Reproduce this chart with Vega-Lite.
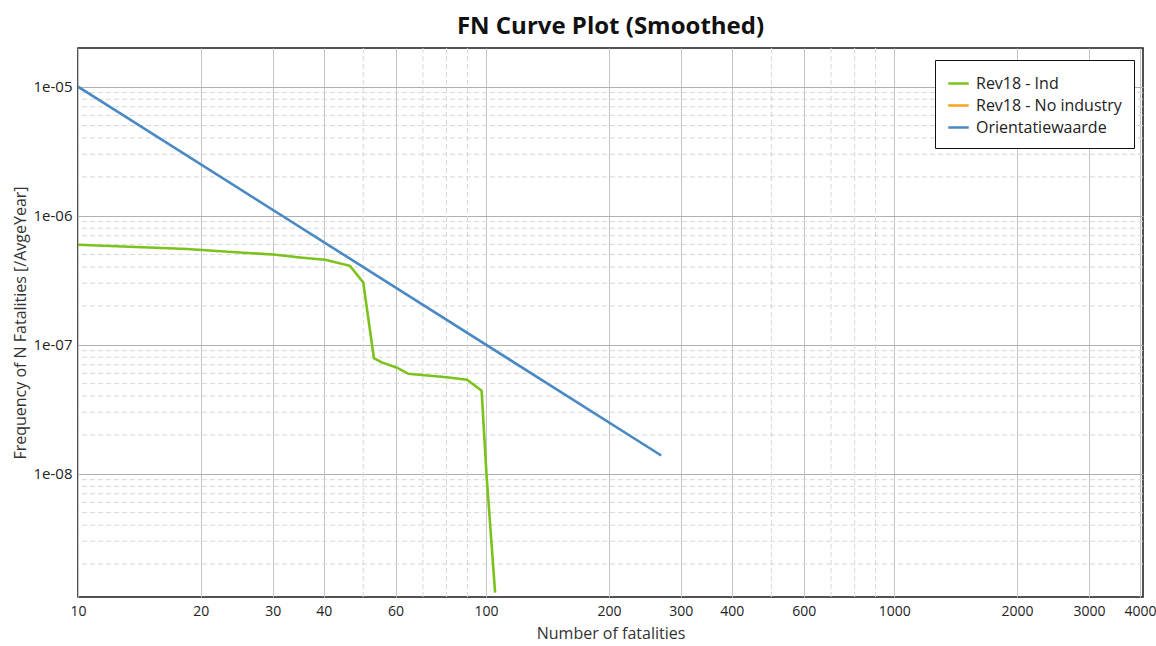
{
  "$schema": "https://vega.github.io/schema/vega-lite/v6.json",
  "autosize": {"type": "none"},
  "width": 1065,
  "height": 549,
  "padding": {"left": 78, "top": 48, "right": 13, "bottom": 49},
  "background": "white",
  "title": {"text": "FN Curve Plot (Smoothed)", "font": "Open Sans", "fontSize": 24, "fontWeight": "bold", "color": "#111", "anchor": "middle", "offset": 9},
  "config": {
    "view": {"stroke": "#1a1a1a", "strokeWidth": 1.5},
    "axis": {"labelFont": "Open Sans", "titleFont": "Open Sans", "labelColor": "#222", "titleColor": "#333", "labelFontSize": 14, "titleFontSize": 16, "titleFontWeight": "normal", "ticks": false, "domain": false}
  },
  "layer": [
    {
      "data": {"values": [{"n": 50}, {"n": 70}, {"n": 80}, {"n": 90}, {"n": 500}, {"n": 700}, {"n": 800}, {"n": 900}]},
      "mark": {"type": "rule", "color": "#d8d8d8", "strokeWidth": 1, "strokeDash": [5, 3]},
      "encoding": {"x": {"field": "n", "type": "quantitative", "scale": {"type": "log", "domain": [10, 4070], "nice": false},
          "axis": {"title": "Number of fatalities", "values": [10, 20, 30, 40, 60, 100, 200, 300, 400, 600, 1000, 2000, 3000, 4000], "format": "d", "grid": true, "gridColor": "#c4c4c4", "gridWidth": 1, "labelPadding": 7, "titlePadding": 7, "labelFlush": false, "labelOverlap": false}}}
    },
    {
      "data": {"values": [
        {"f": 2e-9}, {"f": 3e-9}, {"f": 4e-9}, {"f": 5e-9}, {"f": 6e-9}, {"f": 7e-9}, {"f": 8e-9}, {"f": 9e-9},
        {"f": 2e-8}, {"f": 3e-8}, {"f": 4e-8}, {"f": 5e-8}, {"f": 6e-8}, {"f": 7e-8}, {"f": 8e-8}, {"f": 9e-8},
        {"f": 2e-7}, {"f": 3e-7}, {"f": 4e-7}, {"f": 5e-7}, {"f": 6e-7}, {"f": 7e-7}, {"f": 8e-7}, {"f": 9e-7},
        {"f": 2e-6}, {"f": 3e-6}, {"f": 4e-6}, {"f": 5e-6}, {"f": 6e-6}, {"f": 7e-6}, {"f": 8e-6}, {"f": 9e-6}
      ]},
      "mark": {"type": "rule", "color": "#d8d8d8", "strokeWidth": 1, "strokeDash": [5, 3]},
      "encoding": {"y": {"field": "f", "type": "quantitative", "scale": {"type": "log", "domain": [1.11e-9, 1.995e-5], "nice": false},
          "axis": {"title": "Frequency of N Fatalities [/AvgeYear]", "titleFontSize": 16, "values": [1e-8, 1e-7, 1e-6, 1e-5], "labelExpr": "'1e-0' + round(-log(datum.value)/LN10)", "labelFontSize": 15, "grid": true, "gridColor": "#b0b0b0", "gridWidth": 1.2, "labelPadding": 6, "titlePadding": 5, "labelOverlap": false}}}
    },
    {
      "data": {"values": [
        {"series": "Orientatiewaarde", "n": 10, "f": 1e-5},
        {"series": "Orientatiewaarde", "n": 268.6, "f": 1.386e-8},
        {"series": "Rev18 - Ind", "n": 10, "f": 5.96e-7},
        {"series": "Rev18 - Ind", "n": 18.5, "f": 5.52e-7},
        {"series": "Rev18 - Ind", "n": 24.9, "f": 5.19e-7},
        {"series": "Rev18 - Ind", "n": 30.1, "f": 5.01e-7},
        {"series": "Rev18 - Ind", "n": 35.0, "f": 4.75e-7},
        {"series": "Rev18 - Ind", "n": 40.3, "f": 4.56e-7},
        {"series": "Rev18 - Ind", "n": 46.4, "f": 4.09e-7},
        {"series": "Rev18 - Ind", "n": 50.0, "f": 3.04e-7},
        {"series": "Rev18 - Ind", "n": 53.1, "f": 7.88e-8},
        {"series": "Rev18 - Ind", "n": 55.5, "f": 7.3e-8},
        {"series": "Rev18 - Ind", "n": 60.3, "f": 6.67e-8},
        {"series": "Rev18 - Ind", "n": 64.5, "f": 5.96e-8},
        {"series": "Rev18 - Ind", "n": 80.1, "f": 5.6e-8},
        {"series": "Rev18 - Ind", "n": 89.8, "f": 5.35e-8},
        {"series": "Rev18 - Ind", "n": 97.5, "f": 4.4e-8},
        {"series": "Rev18 - Ind", "n": 100.2, "f": 1.0e-8},
        {"series": "Rev18 - Ind", "n": 105.2, "f": 1.2e-9}
      ]},
      "mark": {"type": "line", "strokeWidth": 2.6, "clip": true},
      "encoding": {
        "x": {"field": "n", "type": "quantitative", "scale": {"type": "log", "domain": [10, 4070], "nice": false},
          "axis": {"title": "Number of fatalities", "values": [10, 20, 30, 40, 60, 100, 200, 300, 400, 600, 1000, 2000, 3000, 4000], "format": "d", "grid": true, "gridColor": "#c4c4c4", "gridWidth": 1, "labelPadding": 7, "titlePadding": 7, "labelFlush": false, "labelOverlap": false}},
        "y": {"field": "f", "type": "quantitative", "scale": {"type": "log", "domain": [1.11e-9, 1.995e-5], "nice": false},
          "axis": {"title": "Frequency of N Fatalities [/AvgeYear]", "titleFontSize": 16, "values": [1e-8, 1e-7, 1e-6, 1e-5], "labelExpr": "'1e-0' + round(-log(datum.value)/LN10)", "labelFontSize": 15, "grid": true, "gridColor": "#b0b0b0", "gridWidth": 1.2, "labelPadding": 6, "titlePadding": 5, "labelOverlap": false}},
        "color": {"field": "series", "type": "nominal",
          "scale": {"domain": ["Rev18 - Ind", "Rev18 - No industry", "Orientatiewaarde"], "range": ["#7cc21c", "#f5a31d", "#4a89c3"]},
          "legend": {"title": null, "orient": "none", "legendX": 857, "legendY": 12, "direction": "vertical", "fillColor": "white", "strokeColor": "#111", "padding": 12, "rowPadding": 2, "symbolType": "stroke", "symbolStrokeWidth": 2.5, "symbolSize": 420, "labelFont": "Open Sans", "labelFontSize": 16, "labelColor": "#222", "labelOffset": 6}}
      }
    }
  ]
}
